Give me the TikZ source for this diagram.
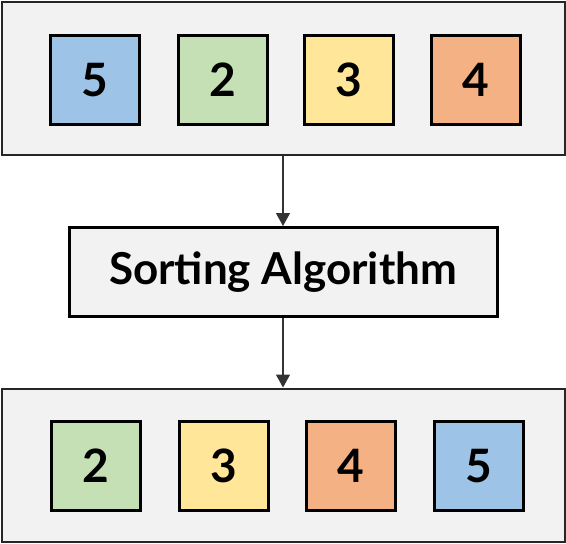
\documentclass[tikz,border=0pt]{standalone}
\usepackage{fontspec}
\setmainfont{Lato}
\usetikzlibrary{arrows.meta}
\definecolor{bgray}{HTML}{F2F2F2}
\definecolor{cblue}{HTML}{9DC3E6}
\definecolor{cgreen}{HTML}{C5E0B4}
\definecolor{cyellow}{HTML}{FFE699}
\definecolor{corange}{HTML}{F4B183}
\begin{document}
\begin{tikzpicture}[x=1pt,y=-1pt,
  outer/.style={draw=black!85, line width=2pt, fill=bgray},
  cell/.style={draw=black, line width=3pt, minimum width=89pt, minimum height=89pt, inner sep=0pt, font=\fontsize{46}{46}\selectfont\bfseries},
  algo/.style={draw=black, line width=3pt, fill=bgray, minimum width=428pt, minimum height=89pt, inner sep=0pt, font=\fontsize{44}{44}\selectfont\bfseries},
  conn/.style={draw=black!80, line width=1.3pt, -{Triangle[length=13pt,width=14pt]}}]
\useasboundingbox (0,0) rectangle (566,544);
\node[outer, minimum width=563pt, minimum height=153pt, inner sep=0pt] (top) at (283,78) {};
\node[outer, minimum width=563pt, minimum height=153pt, inner sep=0pt] (bot) at (283,465) {};
\node[cell, fill=cblue] (t1) at (95,80) {5};
\node[cell, fill=cgreen] (t2) at (222.5,80) {2};
\node[cell, fill=cyellow] (t3) at (349,80) {3};
\node[cell, fill=corange] (t4) at (476,80) {4};
\node[algo] (alg) at (283,272) {Sorting Algorithm};
\node[cell, fill=cgreen] (b1) at (96,466) {2};
\node[cell, fill=cyellow] (b2) at (223.5,466) {3};
\node[cell, fill=corange] (b3) at (351,466) {4};
\node[cell, fill=cblue] (b4) at (478.5,466) {5};
\draw[conn] (top.south) -- (alg.north);
\draw[conn] (alg.south) -- (bot.north);
\end{tikzpicture}
\end{document}
